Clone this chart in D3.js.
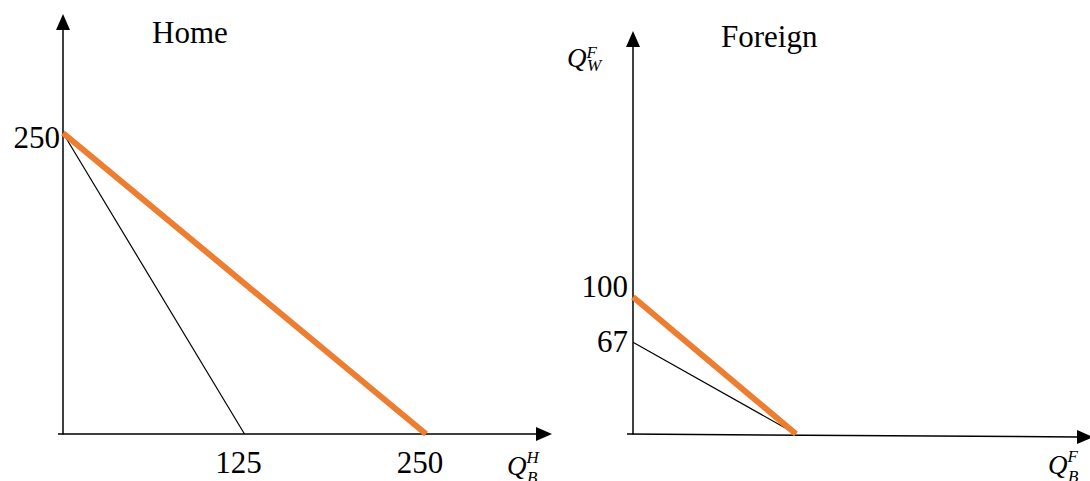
<!DOCTYPE html>
<html>
<head>
<meta charset="utf-8">
<script src="https://cdn.jsdelivr.net/npm/d3@7"></script>
<style>
  html, body { margin: 0; padding: 0; background: #fff; }
  svg { display: block; }
  text { font-family: "Liberation Serif", "Times New Roman", serif; fill: #000; }
</style>
</head>
<body>
<div id="main"></div>
<script>
// data
const homeOrange = [[0, 250], [250, 0]];
const homeBlack = [[0, 250], [125, 0]];
const homeXTicks = [125, 250];
const homeYTicks = [250];

const foreignOrange = [[0, 100], [100, 0]];
const foreignBlack = [[0, 67], [100, 0]];
const foreignYTicks = [100, 67];

const width = 1090, height = 481;
const orange = "#ED7D31";

const svg = d3.select("#main").append("svg")
  .attr("width", width)
  .attr("height", height);

// arrow marker
svg.append("defs").append("marker")
  .attr("id", "arrow")
  .attr("viewBox", "0 0 16 14")
  .attr("refX", 1)
  .attr("refY", 7)
  .attr("markerWidth", 16)
  .attr("markerHeight", 14)
  .attr("markerUnits", "userSpaceOnUse")
  .attr("orient", "auto")
  .append("path")
  .attr("d", "M0,0 L16,7 L0,14 Z")
  .attr("fill", "#000");

const line = (x, y) => d3.line().x(d => x(d[0])).y(d => y(d[1]));

// ---------------- Home ----------------
const hx = d3.scaleLinear().domain([0, 250]).range([63, 426]);
const hy = d3.scaleLinear().domain([0, 250]).range([434, 133]);

const home = svg.append("g");

home.append("line")
  .attr("x1", hx(0)).attr("y1", hy(0) + 0.5)
  .attr("x2", hx(0)).attr("y2", 29)
  .attr("stroke", "#000").attr("stroke-width", 1.5)
  .attr("marker-end", "url(#arrow)");

home.append("line")
  .attr("x1", hx(0) - 5).attr("y1", hy(0))
  .attr("x2", 537).attr("y2", hy(0))
  .attr("stroke", "#000").attr("stroke-width", 1.5)
  .attr("marker-end", "url(#arrow)");

home.append("path")
  .attr("d", line(hx, hy)(homeBlack))
  .attr("fill", "none").attr("stroke", "#000").attr("stroke-width", 1.2);

home.append("path")
  .attr("d", line(hx, hy)(homeOrange))
  .attr("fill", "none").attr("stroke", orange).attr("stroke-width", 6);

home.selectAll(".xt").data(homeXTicks).join("text")
  .attr("x", d => hx(d) - 6)
  .attr("y", 473)
  .attr("text-anchor", "middle")
  .attr("font-size", 31)
  .text(d => d);

home.selectAll(".yt").data(homeYTicks).join("text")
  .attr("x", hx(0) - 3)
  .attr("y", d => hy(d) + 15)
  .attr("text-anchor", "end")
  .attr("font-size", 31)
  .text(d => d);

home.append("text")
  .attr("x", 152).attr("y", 43)
  .attr("font-size", 31)
  .text("Home");

// Q_B^H
const qh = home.append("text")
  .attr("x", 507).attr("y", 475)
  .attr("font-size", 27)
  .attr("font-style", "italic");
qh.append("tspan").text("Q");
qh.append("tspan").attr("font-size", 17).attr("dy", -12).text("H");
qh.append("tspan").attr("font-size", 17).attr("x", 527).attr("dy", 20).text("B");

// ---------------- Foreign ----------------
const fx = d3.scaleLinear().domain([0, 100]).range([633, 796]);
const fy = d3.scaleLinear().domain([0, 100]).range([434, 297]);

const foreign = svg.append("g");

foreign.append("line")
  .attr("x1", fx(0)).attr("y1", fy(0) + 0.5)
  .attr("x2", fx(0)).attr("y2", 46)
  .attr("stroke", "#000").attr("stroke-width", 1.5)
  .attr("marker-end", "url(#arrow)");

foreign.append("line")
  .attr("x1", fx(0) - 6).attr("y1", fy(0))
  .attr("x2", 1078).attr("y2", fy(0) + 3)
  .attr("stroke", "#000").attr("stroke-width", 1.5)
  .attr("marker-end", "url(#arrow)");

foreign.append("path")
  .attr("d", line(fx, fy)(foreignBlack))
  .attr("fill", "none").attr("stroke", "#000").attr("stroke-width", 1.2);

foreign.append("path")
  .attr("d", line(fx, fy)(foreignOrange))
  .attr("fill", "none").attr("stroke", orange).attr("stroke-width", 6);

foreign.selectAll(".yt").data(foreignYTicks).join("text")
  .attr("x", fx(0) - 5)
  .attr("y", d => d === 100 ? fy(d) : fy(d) + 10)
  .attr("text-anchor", "end")
  .attr("font-size", 31)
  .text(d => d);

foreign.append("text")
  .attr("x", 721).attr("y", 47)
  .attr("font-size", 31)
  .text("Foreign");

// Q_W^F
const qw = foreign.append("text")
  .attr("x", 567).attr("y", 67)
  .attr("font-size", 27)
  .attr("font-style", "italic");
qw.append("tspan").text("Q");
qw.append("tspan").attr("font-size", 17).attr("dy", -9).text("F");
qw.append("tspan").attr("font-size", 17).attr("x", 587).attr("dy", 13).text("W");

// Q_B^F
const qb = foreign.append("text")
  .attr("x", 1048).attr("y", 474)
  .attr("font-size", 27)
  .attr("font-style", "italic");
qb.append("tspan").text("Q");
qb.append("tspan").attr("font-size", 17).attr("dy", -12).text("F");
qb.append("tspan").attr("font-size", 17).attr("x", 1068).attr("dy", 20).text("B");
</script>
</body>
</html>
